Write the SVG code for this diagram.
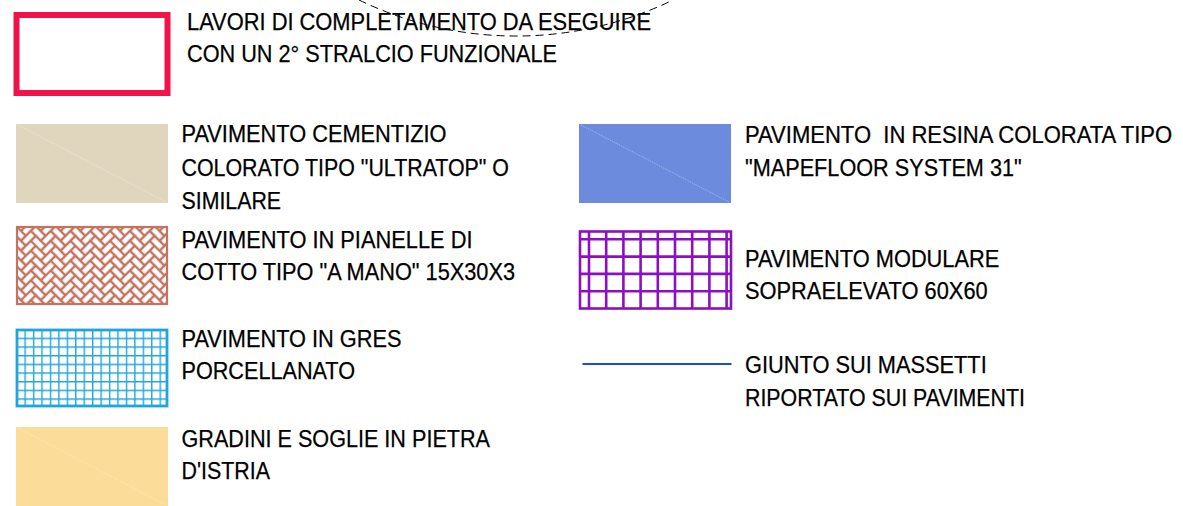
<svg xmlns="http://www.w3.org/2000/svg" width="1183" height="506" viewBox="0 0 1183 506">
  <style>
    .t { font-family: "Liberation Sans", Arial, sans-serif; font-size: 23.5px; fill: #000; stroke: #000; stroke-width: 0.25; }
    .tt { font-size: 24px; }
    .diag { stroke: #ffffff; stroke-opacity: 0.45; stroke-width: 0.8; stroke-dasharray: 1.5 1; fill: none; }
  </style>
  <defs>
    <pattern id="herr" patternUnits="userSpaceOnUse" width="28" height="28" patternTransform="translate(16 226) rotate(45)">
      <rect x="0" y="0" width="28" height="28" fill="#c27460"/>
      <g fill="#ffffff" stroke="#c27460" stroke-width="2.3">
        <rect x="0" y="0" width="14" height="7"/>
        <rect x="0" y="7" width="7" height="14"/>
        <rect x="7" y="7" width="14" height="7"/>
        <rect x="7" y="14" width="7" height="14"/>
        <rect x="14" y="14" width="14" height="7"/>
        <rect x="14" y="21" width="7" height="14"/>
        <rect x="21" y="21" width="14" height="7"/>
        <rect x="-7" y="21" width="14" height="7"/>
        <rect x="14" y="-7" width="7" height="14"/>
        <rect x="21" y="0" width="7" height="14"/>
      </g>
    </pattern>
    <pattern id="gres" patternUnits="userSpaceOnUse" x="16" y="329" width="8.444" height="8.667">
      <rect x="0" y="0" width="8.444" height="8.667" fill="#ffffff"/>
      <path d="M0 0V8.667M0 0H8.444" stroke="#1ea5dc" stroke-width="2.8" fill="none"/>
    </pattern>
  </defs>

  <g id="arc-fragment">
    <path d="M 359 0 A 360 360 0 0 0 673 0" fill="none" stroke="#000" stroke-width="1" stroke-dasharray="8 5"/>
  </g>

  <g id="lavori-2-stralcio">
    <rect x="16.5" y="15" width="151" height="78" fill="#ffffff" stroke="#f2124a" stroke-width="6"/>
    <text class="t tt" x="187" y="29.5" textLength="464" lengthAdjust="spacingAndGlyphs">LAVORI DI COMPLETAMENTO DA ESEGUIRE</text>
    <text class="t tt" x="187" y="62" textLength="370" lengthAdjust="spacingAndGlyphs">CON UN 2° STRALCIO FUNZIONALE</text>
  </g>

  <g id="pavimento-cementizio">
    <rect x="16" y="124" width="152" height="79" fill="#e0d5bd"/>
    <line class="diag" x1="18" y1="125" x2="166" y2="202"/>
    <text class="t" x="181.5" y="141.7" textLength="265" lengthAdjust="spacingAndGlyphs">PAVIMENTO CEMENTIZIO</text>
    <text class="t" x="181.5" y="176" textLength="327.5" lengthAdjust="spacingAndGlyphs">COLORATO TIPO "ULTRATOP" O</text>
    <text class="t" x="181.5" y="209.3" textLength="99.5" lengthAdjust="spacingAndGlyphs">SIMILARE</text>
  </g>

  <g id="pavimento-cotto">
    <rect x="17" y="227" width="150" height="77" fill="url(#herr)" stroke="#c27460" stroke-width="2.2"/>
    <text class="t" x="181.5" y="248.3" textLength="291" lengthAdjust="spacingAndGlyphs">PAVIMENTO IN PIANELLE DI</text>
    <text class="t" x="181.5" y="280" textLength="333.5" lengthAdjust="spacingAndGlyphs">COTTO TIPO "A MANO" 15X30X3</text>
  </g>

  <g id="pavimento-gres">
    <rect x="17" y="330" width="150" height="76" fill="url(#gres)" stroke="#1ea5dc" stroke-width="2.8"/>
    <text class="t" x="181.5" y="347.3" textLength="220" lengthAdjust="spacingAndGlyphs">PAVIMENTO IN GRES</text>
    <text class="t" x="181.5" y="379.3" textLength="173.5" lengthAdjust="spacingAndGlyphs">PORCELLANATO</text>
  </g>

  <g id="gradini-pietra-istria">
    <rect x="16" y="427" width="152" height="79" fill="#fbdc98"/>
    <line class="diag" x1="18" y1="428" x2="166" y2="505"/>
    <text class="t" x="181.5" y="446.7" textLength="308.5" lengthAdjust="spacingAndGlyphs">GRADINI E SOGLIE IN PIETRA</text>
    <text class="t" x="181.5" y="479.3" textLength="88.5" lengthAdjust="spacingAndGlyphs">D'ISTRIA</text>
  </g>

  <g id="pavimento-resina">
    <rect x="579" y="124" width="152" height="79" fill="#6d8bdd"/>
    <line class="diag" x1="581" y1="125" x2="729" y2="202"/>
    <text class="t" transform="translate(745 143.3) scale(0.938 1)" x="0" y="0" xml:space="preserve">PAVIMENTO  IN RESINA COLORATA TIPO</text>
    <text class="t" x="745" y="176" textLength="276.7" lengthAdjust="spacingAndGlyphs">"MAPEFLOOR SYSTEM 31"</text>
  </g>

  <g id="pavimento-modulare">
    <rect x="580" y="231.5" width="151" height="77" fill="#ffffff" stroke="#8c10c0" stroke-width="2.6"/>
    <path d="M589 231.5V308.5M606.2 231.5V308.5M623.4 231.5V308.5M640.6 231.5V308.5M657.8 231.5V308.5M675 231.5V308.5M692.2 231.5V308.5M709.4 231.5V308.5M726.6 231.5V308.5M580 239.3H731M580 256.6H731M580 273.9H731M580 291.2H731" stroke="#8c10c0" stroke-width="2.6" fill="none"/>
    <text class="t" x="745" y="266.7" textLength="254.3" lengthAdjust="spacingAndGlyphs">PAVIMENTO MODULARE</text>
    <text class="t" x="745" y="299" textLength="242.7" lengthAdjust="spacingAndGlyphs">SOPRAELEVATO 60X60</text>
  </g>

  <g id="giunto-massetti">
    <line x1="582.5" y1="364" x2="731.5" y2="364" stroke="#1a48ea" stroke-width="2"/>
    <text class="t" x="745" y="373.3" textLength="241.7" lengthAdjust="spacingAndGlyphs">GIUNTO SUI MASSETTI</text>
    <text class="t" x="745" y="406" textLength="280" lengthAdjust="spacingAndGlyphs">RIPORTATO SUI PAVIMENTI</text>
  </g>
</svg>
